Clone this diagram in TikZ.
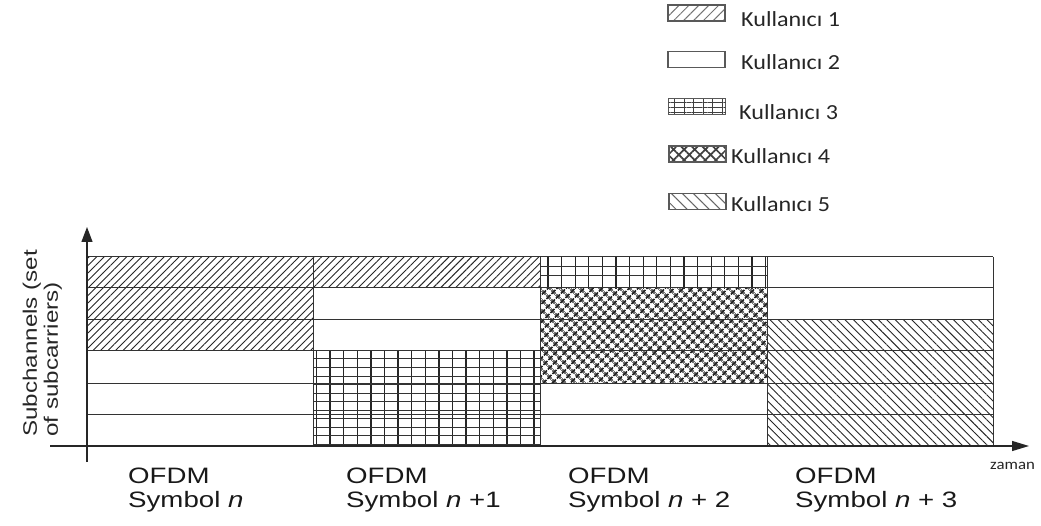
\documentclass[tikz,border=0pt]{standalone}
\usepackage{fontspec}
\setmainfont{Liberation Sans}
\newfontfamily\labfont[FakeStretch=1.24]{Liberation Sans}
\newfontfamily\legfont[FakeStretch=1.12]{Carlito}
\usetikzlibrary{patterns.meta,arrows.meta}
\tikzset{
  gridline/.style={draw=black!80,line width=1pt},
  axisline/.style={draw=black!85,line width=1.2pt},
  ua/.style={pattern={Lines[angle=45,distance=5.3pt,line width=0.9pt]},pattern color=black!85},
  vline/.style={draw=black!85,line width=1.3pt},
  hline/.style={draw=black!80,line width=1pt},
  ud/.style={pattern={Hatch[angle=45,distance=6.4pt,line width=1.9pt]},pattern color=black!85},
  ue/.style={pattern={Lines[angle=-45,distance=5.9pt,line width=0.9pt]},pattern color=black!85},
  legbox/.style={draw=black!65,line width=1.3pt,minimum width=57pt,minimum height=16pt,inner sep=0pt},
  la/.style={pattern={Lines[angle=45,distance=7pt,line width=1pt]},pattern color=black!55},
  lc/.style={pattern={Lines[angle=90,distance=9.5pt,line width=1pt]},pattern color=black!75,
     postaction={pattern={Lines[angle=0,distance=5.3pt,line width=0.9pt]},pattern color=black!75}},
  ld/.style={pattern={Hatch[angle=45,distance=7.5pt,line width=1.7pt]},pattern color=black!75},
  le/.style={pattern={Lines[angle=-45,distance=7.8pt,line width=1pt]},pattern color=black!60},
  legtxt/.style={font=\legfont\fontsize{21.5}{24}\selectfont,text=black!85,inner sep=0pt,anchor=base west},
  symlab/.style={font=\labfont\fontsize{22.3}{24}\selectfont,text=black!90,inner sep=0pt,align=left,anchor=north west},
}
\begin{document}
\begin{tikzpicture}[x=1pt,y=-1pt]
\useasboundingbox (0,0) rectangle (1041,526);
% pattern fills
\path[ua] (87,257) rectangle (313,351);
\path[ua] (313,257) rectangle (540,288);
\begin{scope}
  \clip (313,351) rectangle (540,446);
  \foreach \xx in {316.5,330.1,...,541} \draw[vline] (\xx,351) -- (\xx,446);
  \foreach \yy in {359,367.5,...,446} \draw[hline] (313,\yy) -- (540,\yy);
\end{scope}
\begin{scope}
  \clip (540,257) rectangle (767,289);
  \foreach \xx in {548,561.6,...,767} \draw[vline] (\xx,257) -- (\xx,289);
  \foreach \yy in {266.5,276} \draw[hline] (540,\yy) -- (767,\yy);
\end{scope}
\path[ud] (540,289) rectangle (767,383);
\path[ue] (767,320) rectangle (993,446);
% grid
\foreach \yy in {257,288,320,351,383,414}
  \draw[gridline] (87,\yy) -- (993,\yy);
\foreach \xx in {313,540,767,993}
  \draw[gridline] (\xx,257) -- (\xx,446);
% axes
\coordinate (ybot) at (87,462);
\coordinate (ytop) at (87,227);
\coordinate (xleft) at (50,446);
\coordinate (xright) at (1029,446);
\draw[axisline,-{Triangle[length=15pt,width=11pt]}] (ybot) -- (ytop);
\draw[axisline,-{Triangle[length=17pt,width=10pt]}] (xleft) -- (xright);
% axis labels
\node[font=\labfont\fontsize{19.5}{21}\selectfont,text=black!85,rotate=90,align=left,anchor=south west,inner sep=0pt] (ylab) at (62,437) {Subchannels (set\\of subcarriers)};
\node[legtxt,font=\legfont\fontsize{15}{18}\selectfont] (zaman) at (990,469) {zaman};
\node[symlab] (s0) at (128,468) {OFDM\\Symbol \textit{n}};
\node[symlab] (s1) at (346,468) {OFDM\\Symbol \textit{n} +1};
\node[symlab] (s2) at (568,468) {OFDM\\Symbol \textit{n} + 2};
\node[symlab] (s3) at (795,468) {OFDM\\Symbol \textit{n} + 3};
% legend
\node[legbox,la] (b1) at (696.5,13) {};
\node[legbox] (b2) at (696.5,59.5) {};
\node[legbox,lc] (b3) at (697,106.5) {};
\node[legbox,ld] (b4) at (697.5,154) {};
\node[legbox,le] (b5) at (697.5,201.5) {};
\node[legtxt] (t1) at (741,27) {Kullanıcı 1};
\node[legtxt] (t2) at (741,70) {Kullanıcı 2};
\node[legtxt] (t3) at (739,120) {Kullanıcı 3};
\node[legtxt] (t4) at (731,164) {Kullanıcı 4};
\node[legtxt] (t5) at (731,212) {Kullanıcı 5};
\end{tikzpicture}
\end{document}
